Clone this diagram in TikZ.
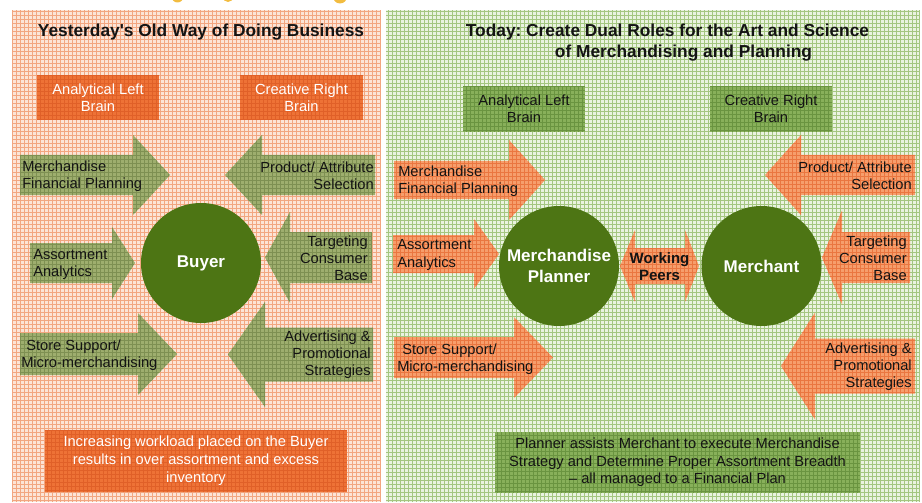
\documentclass[tikz,border=0pt]{standalone}
\usepackage{fontspec}
\setmainfont{Liberation Sans}[Ligatures=TeXOff]
\frenchspacing

% palette
\definecolor{bgL}{RGB}{252,228,214}
\definecolor{bgLline}{RGB}{242,166,128}
\definecolor{bgR}{RGB}{234,243,224}
\definecolor{bgRline}{RGB}{164,198,128}
\definecolor{orgBox}{RGB}{238,114,54}
\definecolor{orgBoxLine}{RGB}{224,96,40}
\definecolor{oliveA}{RGB}{158,174,110}
\definecolor{oliveALine}{RGB}{126,144,82}
\definecolor{orgA}{RGB}{246,158,108}
\definecolor{orgALine}{RGB}{234,118,64}
\definecolor{grnBox}{RGB}{136,176,90}
\definecolor{grnBoxLine}{RGB}{106,148,64}
\definecolor{circ}{RGB}{77,117,20}
\definecolor{ink}{RGB}{20,20,20}
\definecolor{gold}{RGB}{242,188,64}

\newcommand\lblfont{\fontsize{11}{12.8}\selectfont}
\newcommand\titlefont{\fontsize{13}{15.75}\selectfont\bfseries}
\newcommand\roundfont{\fontsize{12.75}{15.75}\selectfont\bfseries}

% block arrow: style, tail x, head-base x, tip x, centre y, body half, head half
\newcommand\blockarrow[7]{%
  \path[#1] (#2,#5-#6) -- (#3,#5-#6) -- (#3,#5-#7) -- (#4,#5)
    -- (#3,#5+#7) -- (#3,#5+#6) -- (#2,#5+#6) -- cycle;}

\tikzset{
  tex/.style={path picture={\draw[#1,line width=0.75pt,step=3pt]
      (path picture bounding box.south west) grid (path picture bounding box.north east);}},
  obox/.style={fill=orgBox, tex=orgBoxLine, text=white, font=\lblfont,
      align=center, inner sep=0pt},
  gbox/.style={fill=grnBox, tex=grnBoxLine, text=ink, font=\lblfont,
      align=center, inner sep=0pt},
  olivearrow/.style={fill=oliveA, tex=oliveALine},
  orangearrow/.style={fill=orgA, tex=orgALine},
  lbl/.style={font=\lblfont, text=ink, inner sep=0pt},
  lbll/.style={lbl, align=left, anchor=west},
  lblr/.style={lbl, align=right, anchor=east},
  role/.style={circle, fill=circ, minimum size=90pt, inner sep=0pt,
      text=white, font=\roundfont, align=center},
  heading/.style={font=\titlefont, text=ink, align=center, inner sep=0pt},
}

\begin{document}
\begin{tikzpicture}[x=0.75pt,y=-0.75pt]
\useasboundingbox (0,0) rectangle (922,503);

% small gold discs cut off by the top edge
\begin{scope}
  \clip (0,0) rectangle (922,503);
  \foreach \gx/\gr in {177.5/6, 228/5.5, 340/7}
    \fill[gold] (\gx,-3.5) circle[radius=\gr];
\end{scope}

% ---------------- panels ----------------
\path[fill=bgL, tex=bgLline] (12,10) rectangle (381,502);
\path[fill=bgR, tex=bgRline] (386,10) rectangle (920,502);

% ---------------- left panel ----------------
\node[heading] (oldtitle) at (201,32) {Yesterday's Old Way of Doing Business};

\node[obox, minimum width=91.5pt, minimum height=33.75pt] (oldleft) at (98,97.5)
  {Analytical Left\\Brain};
\node[obox, minimum width=92.25pt, minimum height=33.75pt] (oldright) at (301.5,97.5)
  {Creative Right\\Brain};

\blockarrow{olivearrow}{20}{133}{170}{175}{20}{40}
\blockarrow{olivearrow}{375}{262}{225}{175}{20}{40}
\blockarrow{olivearrow}{30}{112}{135}{263}{20}{36}
\blockarrow{olivearrow}{372}{290}{265}{257.5}{25.5}{45.5}
\blockarrow{olivearrow}{20}{138}{177}{354}{21}{41}
\blockarrow{olivearrow}{373}{265}{228}{354.5}{27}{52.5}

\node[lbll] (oldmfp) at (22,176) {Merchandise\\Financial Planning};
\node[lblr] (oldpas) at (374,176) {Product/ Attribute\\Selection};
\node[lbll] (oldaa) at (33,264.5) {Assortment\\Analytics};
\node[lblr] (oldtcb) at (368,258.5) {Targeting\\Consumer\\Base};
\node[lbll] (oldss) at (21,355) {\hspace*{3.75pt}Store Support/\\Micro-merchandising};
\node[lblr] (oldaps) at (371,354.5) {Advertising \&\\Promotional\\Strategies};

\node[role] (buyer) at (201,263) {Buyer};

\node[obox, minimum width=226.5pt, minimum height=46.5pt,
      font=\fontsize{11}{13.5}\selectfont] (oldnote) at (196,461)
  {Increasing workload placed on the Buyer\\results in over assortment and excess\\inventory};

% ---------------- right panel ----------------
\node[heading] (newtitle) at (667.5,42.5)
  {Today: Create Dual Roles for the Art and Science\\\hspace*{24pt}of Merchandising and Planning};

\node[gbox, minimum width=91.5pt, minimum height=34.5pt] (newleft) at (524,109)
  {Analytical Left\\Brain};
\node[gbox, minimum width=91.5pt, minimum height=34.5pt] (newright) at (771,109)
  {Creative Right\\Brain};

\blockarrow{orangearrow}{394}{509}{545}{180}{19}{40}
\blockarrow{orangearrow}{915}{801}{765}{175}{20}{40}
\blockarrow{orangearrow}{393}{474}{499}{254}{19}{35}
\blockarrow{orangearrow}{910}{842}{822}{257.5}{25.5}{47}
\blockarrow{orangearrow}{394}{514}{553}{357.5}{20.5}{40.5}
\blockarrow{orangearrow}{915}{815}{781}{366}{27.5}{53.5}

% two-headed arrow between the two roles
\path[orangearrow] (620,266) -- (635,230) -- (635,248) -- (685,248) -- (685,230)
  -- (699,266) -- (685,302) -- (685,284) -- (635,284) -- (635,302) -- cycle;

\node[lbll] (newmfp) at (398,181.5) {Merchandise\\Financial Planning};
\node[lblr] (newpas) at (912,176) {Product/ Attribute\\Selection};
\node[lbll] (newaa) at (397,255) {Assortment\\Analytics};
\node[lblr] (newtcb) at (907,258.5) {Targeting\\Consumer\\Base};
\node[lbll] (newss) at (397,359) {\hspace*{3.75pt}Store Support/\\Micro-merchandising};
\node[lblr] (newaps) at (912,366.5) {Advertising \&\\Promotional\\Strategies};

\node[role] (planner) at (559,266) {Merchandise\\Planner};
\node[role] (merchant) at (761.5,266) {Merchant};

\node[lbl, align=center, font=\fontsize{11.25}{12.75}\selectfont\bfseries] (peers)
  at (659.5,266.5) {Working\\Peers};

\node[gbox, minimum width=273.75pt, minimum height=45.75pt,
      font=\fontsize{11}{13.1}\selectfont] (newnote) at (677.5,462.5)
  {Planner assists Merchant to execute Merchandise\\Strategy and Determine Proper Assortment Breadth\\– all managed to a Financial Plan};
\end{tikzpicture}
\end{document}
